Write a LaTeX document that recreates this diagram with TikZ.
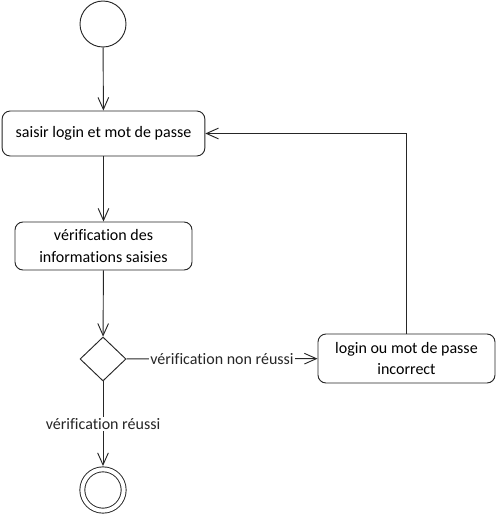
\documentclass[tikz,border=0pt]{standalone}
\usepackage{fontspec}
\setmainfont{Carlito}[Ligatures=NoCommon]
\usetikzlibrary{positioning,arrows.meta,shapes.geometric}
\definecolor{Ink}{HTML}{262626}

\begin{document}
\begin{tikzpicture}[x=0.75pt,y=-0.75pt,line width=0.7pt,every node/.style={font=\fontsize{12}{15.8}\selectfont}]
\tikzstyle{activity}=[draw=Ink,fill=white,rounded corners=6pt,align=center,inner sep=2pt]
\tikzstyle{flow}=[-{Straight Barb[length=9pt,width=8pt]},Ink]
\useasboundingbox (0,0) rectangle (496,515);
\node[draw=Ink,circle,minimum size=34.5pt,inner sep=0] (start) at (103,24) {};
\node[activity,minimum width=152pt,minimum height=33.75pt] (saisie) at (103.5,133.5) {saisir login et mot de passe};
\node[activity,minimum width=132.75pt,minimum height=36pt] (verif) at (103.5,246) {vérification des\\ informations saisies};
\node[draw=Ink,diamond,minimum width=34.5pt,minimum height=33pt,inner sep=0] (choix) at (103,359) {};
\node[activity,minimum width=132.75pt,minimum height=36.75pt] (erreur) at (406.5,358.5) {login ou mot de passe\\ incorrect};
\node[draw=Ink,circle,double,double distance=3pt,minimum size=31pt,inner sep=0,outer sep=2.5pt] (fin) at (103,490) {};
\draw[flow] (start)--(saisie);
\draw[flow] (saisie)--(verif);
\draw[flow] (verif)--(choix);
\draw[flow] (choix)--node[fill=white,inner sep=1pt]{vérification non réussi}(erreur);
\draw[flow] (choix)--node[fill=white,inner sep=1pt]{vérification réussi}(fin);
\draw[flow] (erreur.north)|-(saisie.east);
\end{tikzpicture}
\end{document}
